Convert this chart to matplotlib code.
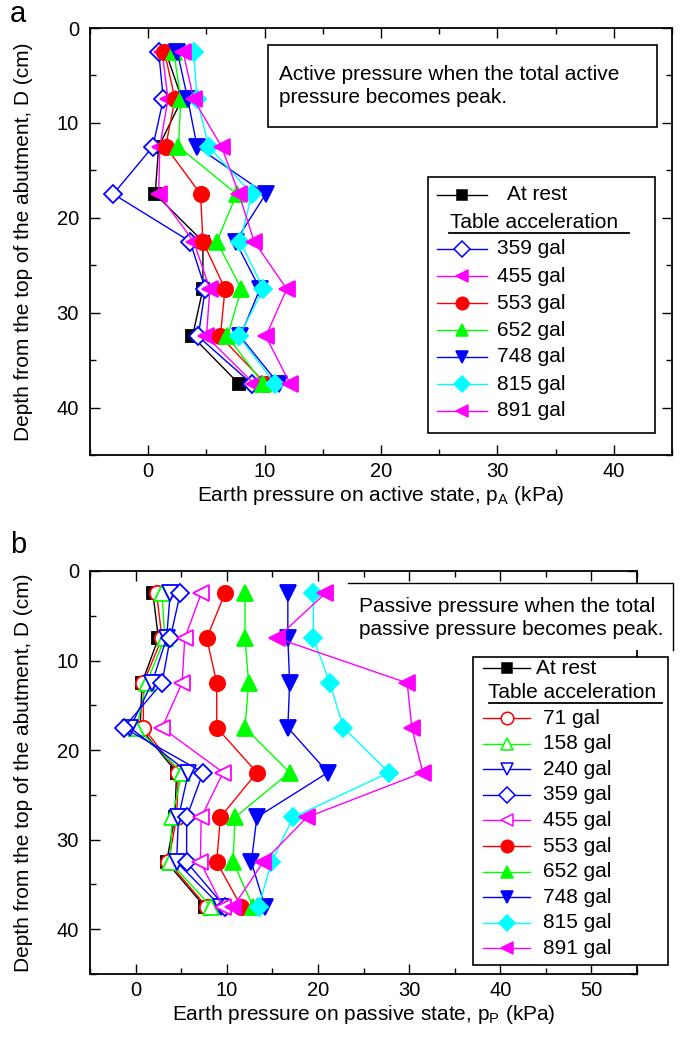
import matplotlib
matplotlib.use("Agg")
import matplotlib.pyplot as plt
from matplotlib.lines import Line2D
from matplotlib.patches import Rectangle
from matplotlib.ticker import MultipleLocator

plt.rcParams["font.family"] = ["Liberation Sans", "DejaVu Sans"]
plt.rcParams["mathtext.fontset"] = "custom"
plt.rcParams["mathtext.rm"] = "Liberation Sans"
plt.rcParams["mathtext.it"] = "Liberation Sans:italic"

# ---------------- data ----------------
depth = [2.5, 7.5, 12.5, 17.5, 22.5, 27.5, 32.5, 37.5]

# (a) active state, kPa
act_labels = ["At rest", "359 gal", "455 gal", "553 gal", "652 gal",
              "748 gal", "815 gal", "891 gal"]
act_rest = [1.5, 2.9, 0.9, 0.6, 4.7, 4.7, 3.8, 7.8]
act_359 = [0.9, 1.3, 0.4, -3.0, 3.6, 4.9, 4.3, 8.9]
act_455 = [1.2, 1.7, 1.0, 0.9, 3.9, 5.3, 5.0, 9.1]
act_553 = [1.4, 2.3, 1.5, 4.5, 4.7, 6.6, 6.2, 10.1]
act_652 = [2.2, 2.8, 2.6, 7.6, 5.9, 8.0, 6.8, 9.9]
act_748 = [2.5, 3.4, 4.2, 10.1, 7.5, 9.6, 7.9, 11.2]
act_815 = [3.9, 4.2, 5.2, 8.9, 7.9, 9.9, 7.8, 10.9]
act_891 = [3.0, 3.9, 6.3, 7.8, 9.1, 11.9, 10.1, 12.2]

# (b) passive state, kPa
pas_labels = ["At rest", "71 gal", "158 gal", "240 gal", "359 gal", "455 gal",
              "553 gal", "652 gal", "748 gal", "815 gal", "891 gal"]
pas_rest = [1.9, 2.5, 0.7, 0.5, 4.5, 4.3, 3.4, 7.6]
pas_71 = [2.3, 2.9, 0.85, 0.85, 4.7, 4.5, 3.6, 7.8]
pas_158 = [2.9, 3.2, 1.2, 0.1, 5.1, 4.0, 3.8, 8.3]
pas_240 = [3.8, 3.4, 1.8, -0.6, 5.8, 4.7, 4.5, 9.4]
pas_359 = [4.9, 3.8, 2.9, -1.3, 7.4, 5.6, 5.6, 9.8]
pas_455 = [7.2, 5.4, 5.1, 2.9, 9.6, 7.2, 7.1, 9.6]
pas_553 = [9.8, 7.8, 8.9, 8.9, 13.3, 9.3, 8.9, 11.6]
pas_652 = [12.0, 12.0, 12.4, 12.0, 16.9, 10.9, 10.7, 12.9]
pas_748 = [16.7, 16.7, 16.9, 16.7, 21.1, 13.3, 12.7, 14.2]
pas_815 = [19.5, 19.5, 21.3, 22.8, 27.8, 17.3, 14.9, 13.5]
pas_891 = [20.8, 15.5, 29.8, 30.3, 31.5, 18.8, 14.0, 10.7]

# ---------------- styles ----------------
BLACK, BLUE, RED, GREEN = "#000000", "#0000ff", "#ff0000", "#00ff00"
CYAN, MAGENTA = "#00ffff", "#ff00ff"

act_series = [
    (act_rest, BLACK, "s", True),
    (act_359, BLUE, "D", False),
    (act_455, MAGENTA, "<", True),
    (act_553, RED, "o", True),
    (act_652, GREEN, "^", True),
    (act_748, BLUE, "v", True),
    (act_815, CYAN, "D", True),
    (act_891, MAGENTA, "<", True),
]
pas_series = [
    (pas_rest, BLACK, "s", True),
    (pas_71, RED, "o", False),
    (pas_158, GREEN, "^", False),
    (pas_240, BLUE, "v", False),
    (pas_359, BLUE, "D", False),
    (pas_455, MAGENTA, "<", False),
    (pas_553, RED, "o", True),
    (pas_652, GREEN, "^", True),
    (pas_748, BLUE, "v", True),
    (pas_815, CYAN, "D", True),
    (pas_891, MAGENTA, "<", True),
]

W, H = 684, 1040
FS = 15


def fx(px):
    return px / W


def fy(py):
    return 1 - py / H


def msize(marker, base):
    return base * 0.85 if marker in ("D", "s") else base


def draw_series(ax, series):
    for vals, col, mk, filled in series:
        ax.plot(vals, depth, color=col, lw=1.0, marker=mk,
                ms=msize(mk, 11), mfc=col if filled else "white",
                mec=col, mew=1.3, clip_on=False)


def style_axes(ax, xlim, xlabel):
    ax.set_xlim(*xlim)
    ax.set_ylim(45, 0)
    ax.xaxis.set_major_locator(MultipleLocator(10))
    ax.xaxis.set_minor_locator(MultipleLocator(5))
    ax.yaxis.set_major_locator(MultipleLocator(10))
    ax.yaxis.set_minor_locator(MultipleLocator(5))
    ax.tick_params(which="both", direction="in", top=True, right=True,
                   width=1.0, labelsize=14.5)
    ax.tick_params(axis="x", pad=5)
    ax.tick_params(axis="y", pad=8)
    ax.tick_params(which="major", length=7)
    ax.tick_params(which="minor", length=4)
    for s in ax.spines.values():
        s.set_linewidth(1.3)
    ax.set_xlabel(xlabel, fontsize=FS, labelpad=2)
    ax.set_ylabel("Depth from the top of the abutment, D (cm)",
                  fontsize=FS, labelpad=17)


def fig_line(fig, xs, ys, **kw):
    fig.add_artist(Line2D([fx(x) for x in xs], [fy(y) for y in ys],
                          transform=fig.transFigure, **kw))


def draw_legend(fig, box, series, labels, rest_y, title_y, title_x,
                ul, row_y0, row_dy, hx, mx, tx, rest_tx, ms):
    x0, y0, x1, y1 = box
    fig.add_artist(Rectangle((fx(x0), fy(y1)), fx(x1) - fx(x0), fy(y0) - fy(y1),
                             transform=fig.transFigure, fc="white",
                             ec="black", lw=1.2, zorder=5))
    ys = [rest_y] + [row_y0 + row_dy * i for i in range(len(series) - 1)]
    for (vals, col, mk, filled), lab, y in zip(series, labels, ys):
        fig_line(fig, hx, [y, y], color=col, lw=1.0, zorder=6)
        fig_line(fig, [mx], [y], color=col, marker=mk, ms=msize(mk, ms),
                 mfc=col if filled else "white", mec=col, mew=1.1,
                 lw=0, zorder=7)
        fig.text(fx(rest_tx if lab == "At rest" else tx), fy(y), lab,
                 fontsize=FS, va="center", ha="left", zorder=7)
    fig.text(fx(title_x), fy(title_y), "Table acceleration", fontsize=FS,
             va="center", ha="left", zorder=7)
    fig_line(fig, [ul[0], ul[1]], [ul[2], ul[2]], color="black", lw=1.3,
             zorder=7)


fig = plt.figure(figsize=(W / 100, H / 100), dpi=100)

# ---------------- panel a ----------------
ax_a = fig.add_axes([fx(90), fy(455), fx(672) - fx(90), fy(28) - fy(455)])
draw_series(ax_a, act_series)
style_axes(ax_a, (-5, 45), r"Earth pressure on active state, p$_\mathrm{A}$ (kPa)")
ax_a.set_xticks([0, 10, 20, 30, 40])

fig.add_artist(Rectangle((fx(268), fy(127)), fx(657) - fx(268), fy(45) - fy(127),
                         transform=fig.transFigure, fc="white", ec="black",
                         lw=1.2, zorder=5))
fig.text(fx(279), fy(86), "Active pressure when the total active\npressure becomes peak.",
         fontsize=FS, va="center", ha="left", linespacing=1.3, zorder=6)

draw_legend(fig, (428, 177, 655, 433), act_series, act_labels,
            rest_y=195, title_y=222, title_x=450, ul=(449, 629, 233),
            row_y0=249, row_dy=27, hx=[437, 487], mx=462, tx=497,
            rest_tx=507, ms=9)

# ---------------- panel b ----------------
ax_b = fig.add_axes([fx(90), fy(974), fx(637) - fx(90), fy(571) - fy(974)])
draw_series(ax_b, pas_series)
style_axes(ax_b, (-5, 55), r"Earth pressure on passive state, p$_\mathrm{P}$ (kPa)")

fig.add_artist(Rectangle((fx(348), fy(650)), fx(673) - fx(348), fy(583) - fy(650),
                         transform=fig.transFigure, fc="white", ec="none",
                         zorder=5))
fig_line(fig, [348, 673, 673], [583, 583, 650], color="black", lw=1.0, zorder=6)
fig.text(fx(359), fy(618), "Passive pressure when the total\npassive pressure becomes peak.",
         fontsize=FS, va="center", ha="left", linespacing=1.3, zorder=6)

draw_legend(fig, (473, 657, 668, 965), pas_series, pas_labels,
            rest_y=668, title_y=693, title_x=488, ul=(489, 662, 703),
            row_y0=718, row_dy=25.6, hx=[483, 530], mx=507, tx=543,
            rest_tx=536, ms=9)

fig.text(fx(18), fy(14), "a", fontsize=21, ha="center", va="center")
fig.text(fx(18), fy(545), "b", fontsize=21, ha="center", va="center")

fig.savefig("out.png", dpi=100)
